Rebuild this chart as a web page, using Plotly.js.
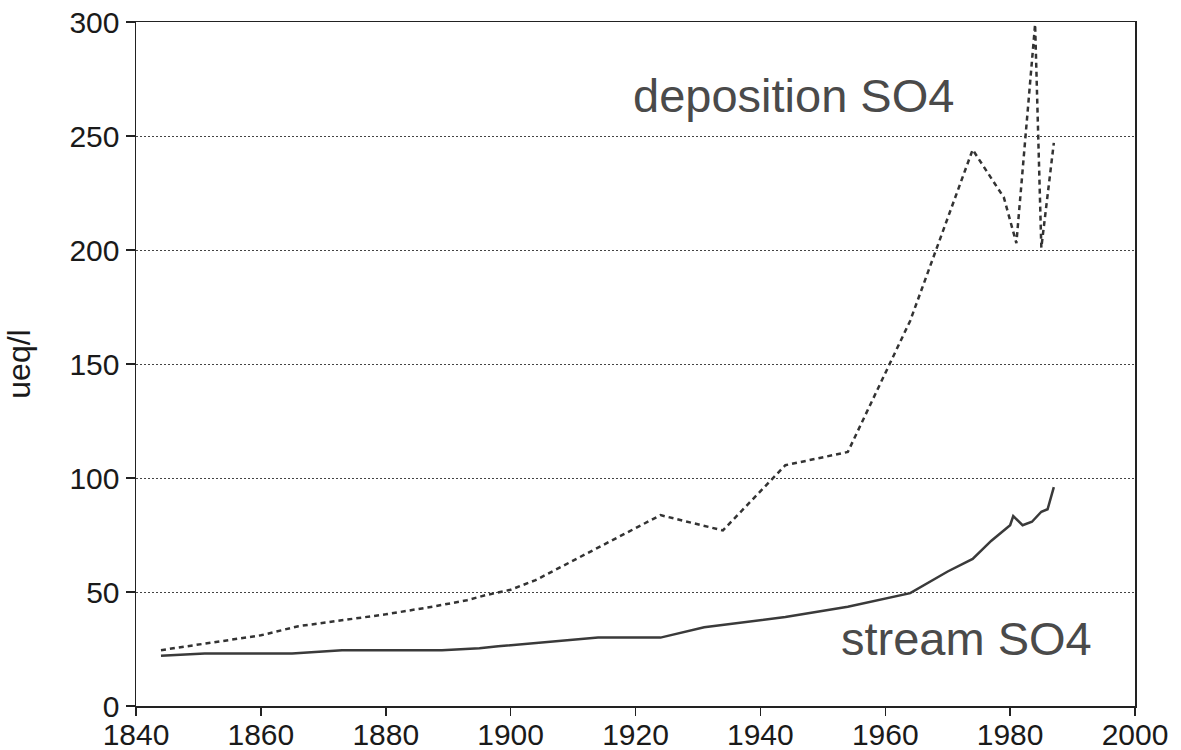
<!DOCTYPE html>
<html>
<head>
<meta charset="utf-8">
<script src="https://cdn.plot.ly/plotly-3.0.1.min.js"></script>
<style>
  html, body { margin: 0; padding: 0; background: #fff; }
  #chart { width: 1181px; height: 750px; }
</style>
</head>
<body>
<div id="chart"></div>
<script>
// Deposition SO4 (dashed)
const depositionYears = [1844, 1850, 1860, 1866, 1880, 1888, 1893, 1896, 1900, 1904, 1914, 1924, 1934, 1944, 1954, 1964, 1974, 1979, 1981, 1984, 1985, 1987];
const depositionSO4   = [24.5, 27, 31, 35, 40.2, 43.8, 46.4, 48.6, 51, 55.2, 69.5, 83.7, 77, 105.6, 111.4, 169, 244, 223, 203, 299, 201, 247];

// Stream SO4 (solid)
const streamYears = [1844, 1851, 1865, 1869, 1873, 1889, 1895, 1898, 1909, 1914, 1924, 1931, 1944, 1954, 1964, 1970, 1974, 1977, 1980, 1980.5, 1982, 1983.5, 1985, 1986, 1987];
const streamSO4   = [22, 23, 23, 23.8, 24.5, 24.5, 25.3, 26.2, 28.9, 30, 30, 34.5, 39, 43.5, 49.5, 59, 64.5, 72.5, 79.3, 83.3, 79.3, 80.8, 85.2, 86.3, 96];

const xTicks = [1840, 1860, 1880, 1900, 1920, 1940, 1960, 1980, 2000];
const yTicks = [0, 50, 100, 150, 200, 250, 300];

const labels = [
  {text: 'deposition SO4', x: 1945.3, y: 267.7},
  {text: 'stream SO4', x: 1973, y: 29.8}
];

const traces = [
  {
    x: depositionYears, y: depositionSO4, type: 'scatter', mode: 'lines',
    name: 'deposition SO4',
    line: {color: '#333333', width: 2.5, dash: '5px,4px'}
  },
  {
    x: streamYears, y: streamSO4, type: 'scatter', mode: 'lines',
    name: 'stream SO4',
    line: {color: '#3a3a3a', width: 2.5}
  }
];

const tickFont = {family: 'Liberation Sans, Arial, sans-serif', size: 30, color: '#1a1a1a'};

const layout = {
  width: 1181, height: 750,
  margin: {l: 135.5, r: 46, t: 21.7, b: 44},
  paper_bgcolor: '#ffffff', plot_bgcolor: '#ffffff',
  showlegend: false,
  xaxis: {
    range: [1840, 2000], tickvals: xTicks, ticktext: xTicks.map(String),
    showgrid: false, zeroline: false,
    showline: true, linecolor: '#222', linewidth: 1.5, mirror: true,
    ticks: 'outside', ticklen: 8, tickwidth: 1.5, tickcolor: '#222',
    ticklabelstandoff: -7,
    tickfont: tickFont
  },
  yaxis: {
    range: [0, 300], tickvals: yTicks, ticktext: yTicks.map(String),
    showgrid: true, gridcolor: '#444', gridwidth: 1, griddash: '1.5px,2.5px',
    zeroline: false,
    showline: true, linecolor: '#222', linewidth: 1.5, mirror: true,
    ticks: 'outside', ticklen: 9, tickwidth: 1.5, tickcolor: '#222',
    tickfont: tickFont,
    title: {text: 'ueq/l', font: {family: 'Liberation Sans, Arial, sans-serif', size: 32, color: '#1a1a1a'}, standoff: 29}
  },
  annotations: labels.map(l => ({
    text: l.text, x: l.x, y: l.y, xref: 'x', yref: 'y',
    showarrow: false, xanchor: 'center', yanchor: 'middle',
    font: {family: 'Liberation Sans, Arial, sans-serif', size: 47, color: '#4a4a4a'}
  }))
};

Plotly.newPlot('chart', traces, layout, {displayModeBar: false, staticPlot: true});
</script>
</body>
</html>
